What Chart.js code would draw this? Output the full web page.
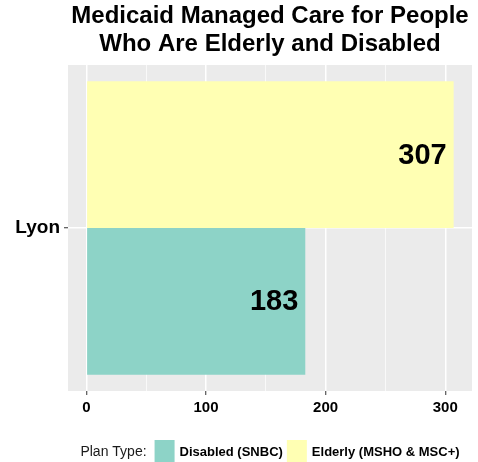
<!DOCTYPE html>
<html>
<head>
<meta charset="utf-8">
<script src="https://cdn.jsdelivr.net/npm/chart.js@4.4.1/dist/chart.umd.min.js"></script>
<style>
    html, body { margin: 0; padding: 0; background: #ffffff; }
    #wrap { width: 478px; height: 462px; position: relative; }
</style>
</head>
<body>
<div id="wrap"><canvas id="graficoPlanos"></canvas></div>
<script>
// ============================================
// DADOS
// ============================================
const chartTitle = ['Medicaid Managed Care for People', 'Who Are Elderly and Disabled'];
const categories = ['Lyon'];
const elderlyValues = [307];
const disabledValues = [183];
const seriesNames = ['Elderly (MSHO & MSC+)', 'Disabled (SNBC)'];
const seriesColors = ['#FFFFB3', '#8DD3C7'];
const majorTicks = [0, 100, 200, 300];
const legendTitle = 'Plan Type:';

const baseFont = "'Liberation Sans', Arial, sans-serif";

const maxValor = Math.max(...elderlyValues, ...disabledValues);

// Fundo cinza do painel (estilo ggplot)
const painelFundo = {
    id: 'painelFundo',
    beforeDraw(chart) {
        const { ctx, chartArea } = chart;
        ctx.save();
        ctx.fillStyle = '#EBEBEB';
        ctx.fillRect(chartArea.left, chartArea.top, chartArea.width, chartArea.height);
        ctx.restore();
    }
};

// Rótulos de valor dentro das barras
const rotulosBarras = {
    id: 'rotulosBarras',
    afterDatasetsDraw(chart) {
        const { ctx } = chart;
        const xScale = chart.scales.x;
        ctx.save();
        ctx.font = 'bold 29px ' + baseFont;
        ctx.fillStyle = '#000000';
        ctx.textAlign = 'right';
        ctx.textBaseline = 'middle';
        chart.data.datasets.forEach((ds, i) => {
            chart.getDatasetMeta(i).data.forEach((bar, j) => {
                const valor = ds.data[j];
                const x = xScale.getPixelForValue(valor) - 7;
                ctx.fillText(String(valor), x, bar.y + 1);
            });
        });
        ctx.restore();
    }
};

// Legenda na base, com título à esquerda
const legendaBase = {
    id: 'legendaBase',
    afterDraw(chart) {
        const { ctx, chartArea } = chart;
        const itens = chart.data.datasets.map(ds => ({ label: ds.label, cor: ds.backgroundColor })).reverse();
        const caixaW = 20, caixaH = 24;
        ctx.save();
        ctx.font = '14px ' + baseFont;
        const tituloW = ctx.measureText(legendTitle).width;
        ctx.font = 'bold 13px ' + baseFont;
        const larguras = itens.map(it => ctx.measureText(it.label).width);
        const total = tituloW + 8 + itens.reduce((s, it, i) => s + caixaW + 5 + larguras[i], 0) + 4 * (itens.length - 1);
        let x = (chartArea.left + chartArea.right) / 2 - total / 2;
        const yMeio = chartArea.bottom + 61;

        ctx.textBaseline = 'middle';
        ctx.textAlign = 'left';
        ctx.fillStyle = '#1a1a1a';
        ctx.font = '14px ' + baseFont;
        ctx.fillText(legendTitle, x, yMeio);
        x += tituloW + 8;

        itens.forEach((it, i) => {
            ctx.fillStyle = it.cor;
            ctx.fillRect(x, yMeio - caixaH / 2, caixaW, caixaH);
            x += caixaW + 5;
            ctx.fillStyle = '#000000';
            ctx.font = 'bold 13px ' + baseFont;
            ctx.fillText(it.label, x, yMeio);
            x += larguras[i] + 4;
        });
        ctx.restore();
    }
};

const ctx = document.getElementById('graficoPlanos').getContext('2d');

new Chart(ctx, {
    type: 'bar',
    data: {
        labels: categories,
        datasets: [
            {
                label: seriesNames[0],
                data: elderlyValues,
                backgroundColor: seriesColors[0],
                borderWidth: 0,
                categoryPercentage: 0.9,
                barPercentage: 1.0
            },
            {
                label: seriesNames[1],
                data: disabledValues,
                backgroundColor: seriesColors[1],
                borderWidth: 0,
                categoryPercentage: 0.9,
                barPercentage: 1.0
            }
        ]
    },
    options: {
        indexAxis: 'y',
        responsive: true,
        maintainAspectRatio: false,
        animation: false,
        layout: {
            padding: { left: 0, right: 6, top: 0, bottom: 41 }
        },
        plugins: {
            legend: { display: false },
            tooltip: { enabled: false },
            title: {
                display: true,
                text: chartTitle,
                fullSize: false,
                color: '#000000',
                font: { family: baseFont, size: 24, weight: 'bold', lineHeight: 1.167 },
                padding: { top: 2, bottom: 7 }
            }
        },
        scales: {
            x: {
                min: -maxValor * 0.05,
                max: maxValor * 1.05,
                border: { display: false },
                afterFit(scale) { scale.height = 30; },
                ticks: {
                    stepSize: 50,
                    includeBounds: false,
                    padding: 4,
                    color: '#000000',
                    font: { family: baseFont, size: 15, weight: 'bold' },
                    callback: function (value) {
                        return majorTicks.includes(value) ? String(value) : '';
                    }
                },
                grid: {
                    color: '#ffffff',
                    lineWidth: function (context) {
                        return context.tick && majorTicks.includes(context.tick.value) ? 1.5 : 0.7;
                    },
                    tickLength: 4,
                    tickColor: function (context) {
                        return context.tick && majorTicks.includes(context.tick.value) ? '#333333' : 'rgba(0,0,0,0)';
                    },
                    tickWidth: 1
                }
            },
            y: {
                border: { display: false },
                afterFit(scale) { scale.width = 68; },
                ticks: {
                    padding: 4,
                    color: '#000000',
                    font: { family: baseFont, size: 19, weight: 'bold' }
                },
                grid: {
                    offset: false,
                    color: '#ffffff',
                    lineWidth: 1.5,
                    tickLength: 4,
                    tickColor: '#333333',
                    tickWidth: 1
                }
            }
        }
    },
    plugins: [painelFundo, rotulosBarras, legendaBase]
});
</script>
</body>
</html>
